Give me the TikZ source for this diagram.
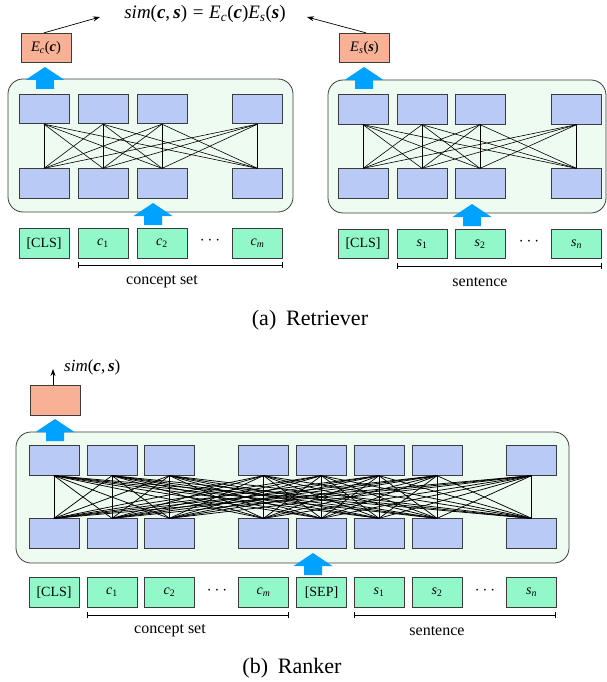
\documentclass[tikz,border=0pt]{standalone}
\usepackage{fontspec}
\setmainfont{Liberation Serif}
\usetikzlibrary{arrows.meta}
\definecolor{encblue}{RGB}{185,202,246}
\definecolor{tokmint}{RGB}{146,248,202}
\definecolor{outorange}{RGB}{249,177,149}
\definecolor{bggreen}{RGB}{237,251,240}
\definecolor{arrblue}{RGB}{0,162,255}
\definecolor{edgegray}{RGB}{60,60,60}
\tikzset{
  enc/.style={rectangle, draw=edgegray, fill=encblue, line width=0.8pt, minimum width=50pt, minimum height=29.5pt, inner sep=0pt},
  tok/.style={enc, fill=tokmint, font=\fontsize{14}{16}\selectfont},
  outbox/.style={enc, fill=outorange, font=\fontsize{14.5}{16}\selectfont},
  container/.style={rectangle, draw=edgegray, fill=bggreen, line width=0.8pt, rounded corners=15pt, inner sep=0pt},
  conn/.style={draw=black, line width=0.6pt},
  kconn/.style={draw=black, line width=0.75pt},
  simarrow/.style={draw=black, line width=0.7pt, -{Stealth[length=7pt,width=5pt]}},
  spanline/.style={draw=black, line width=0.6pt, {Bar[width=6pt]}-{Bar[width=6pt]}},
  lbl/.style={font=\fontsize{16}{18}\selectfont, inner sep=0pt},
  capt/.style={font=\fontsize{22}{24}\selectfont, inner sep=0pt},
  dotsnode/.style={font=\fontsize{19}{20}\selectfont, inner sep=0pt},
  blockup/.pic={\fill[arrblue] (-9,0) -- (-9,-9) -- (-19.5,-9) -- (0,-22) -- (19.5,-9) -- (9,-9) -- (9,0) -- cycle;}
}
\newcommand{\bi}[1]{{\bfseries\itshape #1}}
\begin{document}
\begin{tikzpicture}[x=1pt,y=-1pt]
\useasboundingbox (0,0) rectangle (607,682);
% ================= Retriever =================
\node[container, minimum width=285pt, minimum height=133pt] (cl) at (150.5,145.5) {};
\node[container, minimum width=278pt, minimum height=133pt] (cr) at (467,146.5) {};
% left encoder
\foreach \i/\x in {1/44,2/103,3/162,4/257.5} {
  \node[enc] (lu\i) at (\x,109) {};
  \node[enc] (ll\i) at (\x,183.5) {};
}
\foreach \i in {1,...,4} \foreach \j in {1,...,4} \draw[conn] (lu\i.south) -- (ll\j.north);
% right encoder
\foreach \i/\x in {1/363,2/422,3/480,4/576.5} {
  \node[enc] (ru\i) at (\x,109.5) {};
  \node[enc] (rl\i) at (\x,183.5) {};
}
\foreach \i in {1,...,4} \foreach \j in {1,...,4} \draw[conn] (ru\i.south) -- (rl\j.north);
% tokens left
\node[tok] (lt0) at (44,243.5) {[CLS]};
\node[tok] (lt1) at (103,243.5) {\textit{c}\textsubscript{1}};
\node[tok] (lt2) at (162,243.5) {\textit{c}\textsubscript{2}};
\node[tok] (lt3) at (257.5,243.5) {\textit{c}\textsubscript{\textit{m}}};
\node[dotsnode] (ldots) at (210,241) {$\cdots$};
% tokens right
\node[tok] (rt0) at (363,244) {[CLS]};
\node[tok] (rt1) at (422,244) {\textit{s}\textsubscript{1}};
\node[tok] (rt2) at (480,244) {\textit{s}\textsubscript{2}};
\node[tok] (rt3) at (576.5,244) {\textit{s}\textsubscript{\textit{n}}};
\node[dotsnode] (rdots) at (529,242) {$\cdots$};
% spans
\coordinate (lsa) at (78,265);
\coordinate (lsb) at (283,265);
\draw[spanline] (lsa) -- (lsb);
\node[lbl] (lcs) at (162,282) {concept set};
\coordinate (rsa) at (397,266);
\coordinate (rsb) at (602,266);
\draw[spanline] (rsa) -- (rsb);
\node[lbl] (rsn) at (480,282) {sentence};
% block arrows
\pic at (45,89) {blockup};
\pic at (364,89) {blockup};
\pic at (153,225) {blockup};
\pic at (472,226) {blockup};
% outputs
\node[outbox] (ec) at (46,48) {\textit{E}\textsubscript{\textit{c}}(\bi{c})};
\node[outbox] (es) at (364.5,48) {\textit{E}\textsubscript{\textit{s}}(\bi{s})};
\node[font=\fontsize{19}{21}\selectfont, inner sep=0pt] (form) at (205,14)
  {\textit{sim}(\bi{c},\,\bi{s})\hspace{0.3em}=\hspace{0.3em}\textit{E}\textsubscript{\textit{c}}(\bi{c})\textit{E}\textsubscript{\textit{s}}(\bi{s})};
\coordinate (fl) at (100,17);
\coordinate (fr) at (307,17);
\draw[simarrow] ([xshift=-2pt]ec.north) -- (fl);
\draw[simarrow] ([xshift=1.5pt]es.north) -- (fr);
\node[capt] (capa) at (310,320) {(a)\hspace{0.45em}Retriever};
% ================= Ranker =================
\node[container, minimum width=553pt, minimum height=131pt] (ck) at (292.5,497.5) {};
\foreach \i/\x in {1/54,2/112,3/169.5,4/263.5,5/321.5,6/379,7/437,8/531.5} {
  \node[enc] (ku\i) at (\x,460.5) {};
  \node[enc] (kl\i) at (\x,533.5) {};
}
\foreach \i in {1,...,8} \foreach \j in {1,...,8} \draw[kconn] (ku\i.south) -- (kl\j.north);
\node[tok] (kt0) at (54,592.5) {[CLS]};
\node[tok] (kt1) at (112,592.5) {\textit{c}\textsubscript{1}};
\node[tok] (kt2) at (169.5,592.5) {\textit{c}\textsubscript{2}};
\node[tok] (kt3) at (263.5,592.5) {\textit{c}\textsubscript{\textit{m}}};
\node[tok] (kt4) at (321.5,592.5) {[SEP]};
\node[tok] (kt5) at (379,592.5) {\textit{s}\textsubscript{1}};
\node[tok] (kt6) at (437,592.5) {\textit{s}\textsubscript{2}};
\node[tok] (kt7) at (531.5,592.5) {\textit{s}\textsubscript{\textit{n}}};
\node[dotsnode] (kdots1) at (217,591) {$\cdots$};
\node[dotsnode] (kdots2) at (485,591) {$\cdots$};
\coordinate (ksa) at (87,615);
\coordinate (ksb) at (289,615);
\draw[spanline] (ksa) -- (ksb);
\node[lbl] (kcs) at (170,631) {concept set};
\coordinate (ksc) at (354,615);
\coordinate (ksd) at (556,615);
\draw[spanline] (ksc) -- (ksd);
\node[lbl] (ksn) at (437,631) {sentence};
\pic at (55,441) {blockup};
\pic at (313,575) {blockup};
\node[outbox] (ko) at (55.5,400.5) {};
\coordinate (ksim) at (53,369);
\draw[simarrow] ([xshift=-2.5pt]ko.north) -- (ksim);
\node[font=\fontsize{17}{19}\selectfont, inner sep=0pt, anchor=west] (ksimlbl) at (64,367) {\textit{sim}(\bi{c},\,\bi{s})};
\node[capt] (capb) at (292,668) {(b)\hspace{0.45em}Ranker};
\end{tikzpicture}
\end{document}
